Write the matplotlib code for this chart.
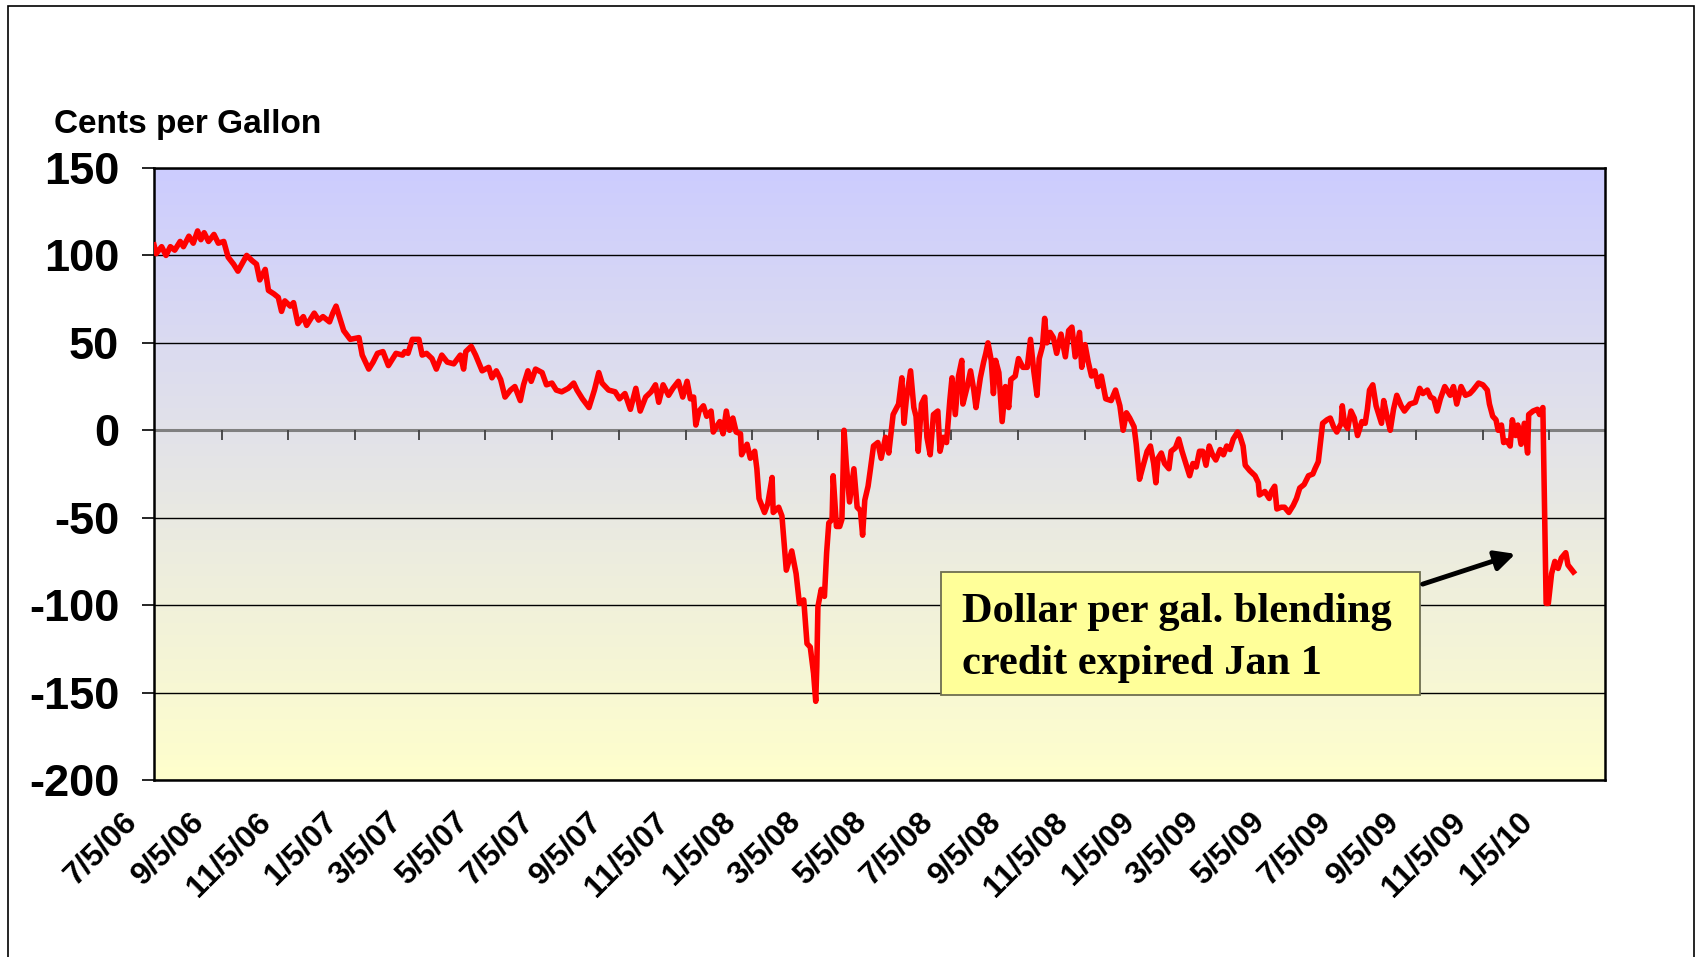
import datetime as dt
import numpy as np
import matplotlib
matplotlib.use("Agg")
import matplotlib.pyplot as plt
import matplotlib.dates as mdates
from matplotlib.colors import LinearSegmentedColormap
from matplotlib.patches import Rectangle, FancyArrowPatch
from matplotlib.transforms import ScaledTranslation

plt.rcParams['axes.unicode_minus'] = False

# ---- data ----
start_date = dt.date(2006, 7, 5)
end_date = dt.date(2010, 2, 25)   # right edge of the plot area

# days after 7/5/06
day_offset = [
    0, 2, 7, 11, 15, 19, 24, 27, 32, 36,
    40, 43, 46, 50, 55, 59, 64, 68, 73, 77,
    85, 90, 94, 97, 102, 105, 110, 114, 117, 120,
    125, 128, 132, 137, 140, 147, 151, 155, 161, 164,
    167, 170, 174, 180, 188, 191, 197, 201, 205, 210,
    215, 222, 228, 230, 233, 237, 243, 246, 250, 255,
    259, 264, 269, 275, 281, 284, 286, 291, 295, 301,
    307, 310, 314, 318, 322, 327, 331, 336, 339, 343,
    346, 350, 356, 360, 365, 369, 374, 380, 385, 388,
    393, 399, 404, 408, 411, 417, 423, 427, 432, 437,
    442, 446, 451, 456, 460, 463, 467, 472, 476, 481,
    485, 489, 492, 495, 497, 500, 504, 507, 511, 513,
    519, 522, 525, 528, 531, 534, 538, 539, 544, 547,
    551, 553, 555, 560, 563, 567, 568, 573, 576, 580,
    585, 589, 592, 596, 599, 602, 605, 607, 608, 609,
    612, 615, 617, 619, 622, 623, 626, 629, 631, 633,
    635, 638, 642, 645, 648, 650, 652, 655, 657, 660,
    664, 667, 671, 674, 678, 683, 686, 688, 690, 694,
    697, 699, 701, 704, 707, 709, 712, 715, 719, 721,
    724, 727, 730, 732, 735, 738, 741, 742, 746, 749,
    752, 754, 758, 761, 763, 765, 768, 770, 772, 775,
    778, 781, 784, 786, 790, 793, 797, 801, 804, 807,
    810, 812, 815, 817, 819, 822, 825, 828, 832, 836,
    839, 842, 845, 849, 851, 854, 857, 860, 863, 866,
    869, 873, 878, 882, 886, 889, 892, 895, 899, 901,
    904, 907, 911, 914, 917, 919, 921, 924, 927, 931,
    933, 937, 940, 943, 946, 950, 953, 956, 959, 962,
    965, 968, 971, 974, 978, 981, 984, 987, 990, 994,
    996, 999, 1001, 1005, 1010, 1013, 1014, 1019, 1023, 1025,
    1028, 1030, 1034, 1037, 1041, 1045, 1048, 1051, 1055, 1059,
    1063, 1065, 1068, 1070, 1072, 1076, 1079, 1082, 1085, 1089,
    1090, 1092, 1095, 1098, 1101, 1104, 1108, 1111, 1113, 1115,
    1118, 1121, 1124, 1126, 1128, 1131, 1134, 1137, 1140, 1144,
    1147, 1152, 1157, 1161, 1164, 1168, 1171, 1174, 1177, 1180,
    1184, 1189, 1192, 1195, 1199, 1203, 1207, 1210, 1215, 1219,
    1223, 1225, 1228, 1231, 1233, 1236, 1238, 1241, 1244, 1246,
    1249, 1251, 1254, 1257, 1260, 1261, 1265, 1269, 1271, 1274,
    1277, 1279, 1282, 1285, 1288, 1291, 1295, 1297, 1302,
]

cents = [
    106, 101, 105, 100, 105, 103, 108, 105, 111, 107,
    114, 109, 113, 108, 112, 107, 108, 99, 95, 91,
    100, 97, 95, 86, 92, 80, 78, 76, 68, 74,
    71, 73, 61, 65, 60, 67, 63, 65, 62, 67,
    71, 65, 57, 52, 53, 43, 35, 39, 44, 45,
    37, 44, 43, 45, 44, 52, 52, 43, 44, 41,
    35, 43, 39, 38, 43, 35, 45, 48, 43, 34,
    36, 30, 34, 29, 19, 23, 25, 17, 26, 34,
    28, 35, 33, 26, 27, 23, 22, 24, 27, 23,
    18, 13, 23, 33, 27, 23, 22, 18, 21, 12,
    24, 11, 19, 22, 26, 16, 26, 20, 24, 28,
    19, 28, 18, 19, 3, 11, 14, 8, 11, -1,
    5, -2, 11, 0, 7, -1, -2, -14, -8, -16,
    -12, -22, -39, -47, -42, -27, -47, -44, -49, -80,
    -69, -82, -99, -97, -122, -124, -139, -155, -135, -101,
    -91, -95, -70, -53, -51, -26, -55, -55, -51, 0,
    -19, -41, -22, -44, -46, -60, -40, -32, -23, -9,
    -7, -16, -4, -13, 9, 15, 30, 4, 17, 34,
    13, 8, -12, 15, 19, -4, -14, 9, 11, -12,
    -4, -7, 17, 30, 9, 31, 40, 15, 25, 34,
    23, 13, 30, 39, 44, 50, 40, 21, 40, 33,
    5, 25, 13, 29, 31, 41, 36, 36, 52, 34,
    20, 41, 48, 64, 50, 56, 53, 44, 55, 42,
    57, 59, 42, 56, 36, 49, 39, 31, 34, 25,
    31, 18, 17, 23, 14, 0, 10, 7, 2, -8,
    -28, -21, -12, -9, -19, -30, -16, -13, -19, -22,
    -12, -10, -5, -12, -18, -26, -19, -21, -12, -12,
    -20, -9, -14, -17, -11, -14, -9, -11, -5, -1,
    -3, -9, -20, -23, -26, -30, -37, -35, -39, -35,
    -32, -45, -44, -44, -47, -43, -39, -33, -31, -26,
    -25, -22, -18, -7, 4, 6, 7, 2, -1, 4,
    14, 4, 1, 11, 7, -3, 5, 4, 12, 23,
    26, 14, 8, 4, 17, 8, 0, 12, 20, 14,
    11, 15, 16, 24, 21, 23, 19, 18, 11, 18,
    25, 20, 25, 15, 25, 20, 21, 23, 27, 26,
    23, 15, 8, 6, 0, 3, -7, -6, -9, 6,
    -3, 3, -8, 4, -13, 9, 11, 12, 9, 13,
    -99, -99, -82, -75, -79, -73, -70, -77, -81,
]

tick_labels = ['7/5/06', '9/5/06', '11/5/06', '1/5/07', '3/5/07', '5/5/07',
               '7/5/07', '9/5/07', '11/5/07', '1/5/08', '3/5/08', '5/5/08',
               '7/5/08', '9/5/08', '11/5/08', '1/5/09', '3/5/09', '5/5/09',
               '7/5/09', '9/5/09', '11/5/09', '1/5/10']
y_ticks = [-200, -150, -100, -50, 0, 50, 100, 150]
y_title = 'Cents per Gallon'
note_text = 'Dollar per gal. blending\ncredit expired Jan 1'

dates = [start_date + dt.timedelta(days=d) for d in day_offset]
tick_dates = [dt.datetime.strptime(s, '%m/%d/%y') for s in tick_labels]

W, H = 1700, 957
fig = plt.figure(figsize=(W / 100, H / 100), dpi=100)
pos = [154 / W, 1 - 780 / H, (1605 - 154) / W, (780 - 168) / H]

# gradient background in its own axes
bg = fig.add_axes(pos, zorder=0)
cmap = LinearSegmentedColormap.from_list('bg', ['#FFFFCC', '#CCCCFF'])
bg.imshow(np.linspace(0, 1, 256).reshape(-1, 1), cmap=cmap, aspect='auto',
          origin='lower', extent=[0, 1, 0, 1])
bg.set_axis_off()

ax = fig.add_axes(pos, zorder=1)
ax.patch.set_visible(False)

ax.set_ylim(-200, 150)
ax.set_xlim(mdates.date2num(start_date), mdates.date2num(end_date))
ax.set_yticks(y_ticks)
ax.yaxis.grid(True, color='black', lw=1.0)
ax.set_axisbelow(True)
ax.axhline(0, color='#808080', lw=2.2, zorder=2)
ax.vlines(mdates.date2num(tick_dates), -5.7, 0, color='#404040', lw=1.3, zorder=2)

ax.plot(mdates.date2num(dates), cents, color='#FF0000', lw=4.0,
        solid_joinstyle='round', zorder=3)

for s in ax.spines.values():
    s.set_color('black')
    s.set_linewidth(1.8)

ax.tick_params(axis='y', length=9, width=1.2, pad=16, labelsize=32.5)
for lab in ax.get_yticklabels():
    lab.set_fontweight('bold')
    lab.set_fontfamily('Liberation Sans')

ax.set_xticks(mdates.date2num(tick_dates))
ax.set_xticklabels(tick_labels, rotation=45, ha='right', va='center',
                   rotation_mode='anchor', fontsize=23, fontweight='bold',
                   fontfamily='Liberation Sans')
ax.tick_params(axis='x', length=0, pad=27)
shift = ScaledTranslation(-0.22, 0, fig.dpi_scale_trans)
for lab in ax.get_xticklabels():
    lab.set_transform(lab.get_transform() + shift)

fig.text(54 / W, 1 - 125 / H, y_title, ha='left', va='center', fontsize=24,
         fontweight='bold', fontfamily='Liberation Sans')

# annotation box + arrow
fig.patches.append(Rectangle((941 / W, 1 - 695 / H), (1420 - 941) / W, (695 - 572) / H,
                             transform=fig.transFigure, facecolor='#FFFF99',
                             edgecolor='#6E6E50', lw=1.3, zorder=5))
fig.text(962 / W, 1 - 638 / H, note_text, ha='left', va='center', fontsize=30.5,
         fontweight='bold', fontfamily='Liberation Serif', linespacing=1.45, zorder=6)
fig.patches.append(FancyArrowPatch((1420 / W, 1 - 585 / H), (1518 / W, 1 - 553 / H),
                                   transform=fig.transFigure, arrowstyle='-|>',
                                   mutation_scale=30, lw=3.5, color='black', zorder=6))

# outer frame
fig.patches.append(Rectangle((8 / W, -0.05), (1694 - 8) / W, 1.05 - 6 / H,
                             transform=fig.transFigure, fill=False,
                             edgecolor='black', lw=1.2))

fig.savefig('out.png', dpi=100)
